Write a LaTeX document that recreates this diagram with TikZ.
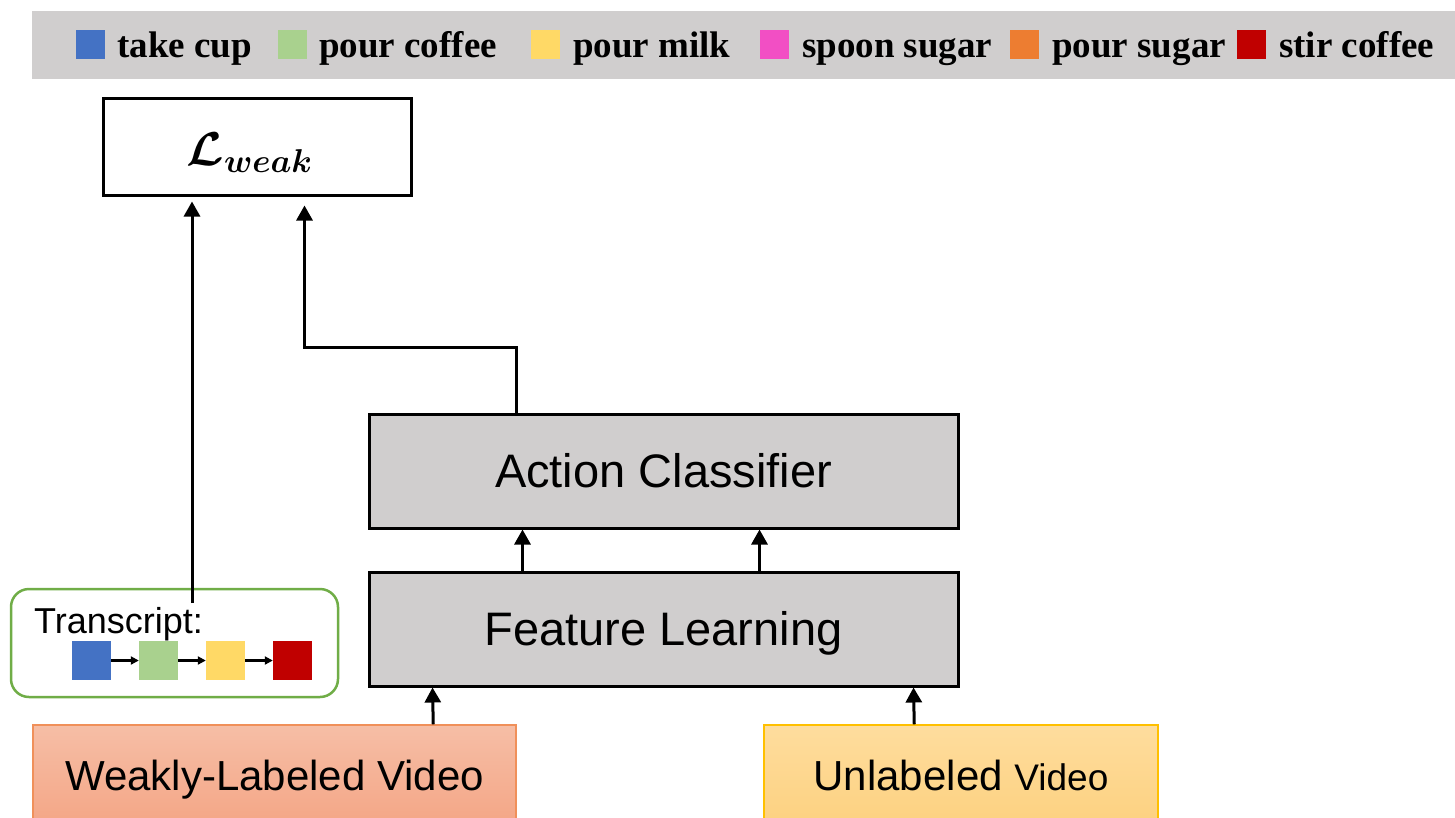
\documentclass[tikz,border=0pt]{standalone}
\usepackage{amsmath}
\usepackage{bm}
\usepackage{graphicx}
\usepackage{fontspec}
\setmainfont{Liberation Sans}
\newfontfamily\legfont{Liberation Serif}
\usetikzlibrary{arrows.meta,calc}
\definecolor{bandgray}{HTML}{D0CECE}
\definecolor{cblue}{HTML}{4472C4}
\definecolor{cgreen}{HTML}{A9D18E}
\definecolor{cyellow}{HTML}{FFD966}
\definecolor{cpink}{HTML}{F24FC4}
\definecolor{corange}{HTML}{ED7D31}
\definecolor{cred}{HTML}{C00000}
\definecolor{tgreen}{HTML}{70AD47}
\definecolor{wtop}{HTML}{F6BEA6}
\definecolor{wbot}{HTML}{F4A686}
\definecolor{wborder}{HTML}{F0905A}
\definecolor{utop}{HTML}{FEDD9E}
\definecolor{ubot}{HTML}{FDD180}
\definecolor{uborder}{HTML}{FFC000}
\tikzset{
  legsq/.style={draw=none, minimum size=29pt, inner sep=0pt},
  legtxt/.style={anchor=base west, inner sep=0pt, font=\legfont\bfseries\fontsize{37}{40}\selectfont},
  graybox/.style={draw=black, line width=3pt, fill=bandgray, minimum width=589pt, minimum height=114pt, inner sep=0pt,
    font=\fontsize{47}{52}\selectfont, text height=33.6pt, text depth=0pt},
  vidbox/.style={line width=1.5pt, minimum height=97pt, inner sep=0pt,
    font=\fontsize{42}{48}\selectfont, text height=30pt, text depth=0pt},
  arr/.style={line width=3pt, -{Triangle[length=15pt,width=16pt]}},
  smallarr/.style={line width=2.2pt, -{Triangle[length=8pt,width=8pt]}},
  trsq/.style={draw=none, minimum size=39pt, inner sep=0pt},
}
\begin{document}
\begin{tikzpicture}[x=1pt,y=-1pt]
\useasboundingbox (0,0) rectangle (1455,817);
% legend band
\fill[bandgray] (32,11) rectangle (1455,79);
\node[legsq, fill=cblue] (l1) at (90.5,44.5) {};
\node[legtxt] (t1) at (117,57) {take cup};
\node[legsq, fill=cgreen] (l2) at (292,44.5) {};
\node[legtxt] (t2) at (319,57) {pour coffee};
\node[legsq, fill=cyellow] (l3) at (545,44.5) {};
\node[legtxt] (t3) at (573,57) {pour milk};
\node[legsq, fill=cpink] (l4) at (774.5,44.5) {};
\node[legtxt] (t4) at (802,57) {spoon sugar};
\node[legsq, fill=corange] (l5) at (1024.5,44.5) {};
\node[legtxt] (t5) at (1052,57) {pour sugar};
\node[legsq, fill=cred] (l6) at (1251.5,44.5) {};
\node[legtxt] (t6) at (1279,57) {stir coffee};
% loss box
\node[draw=black, line width=3pt, fill=white, minimum width=308pt, minimum height=97pt, inner sep=0pt] (L) at (257,146.5) {};
\node[inner sep=0pt, font=\LARGE] (Ltxt) at (250,153) {\scalebox{2.75}{$\bm{\mathcal{L}}_{\bm{weak}}$}};
% main boxes
\node[graybox] (act) at (663.5,471) {Action Classifier};
\node[graybox] (feat) at (663.5,629) {Feature Learning};
% videos
\node[vidbox, draw=wborder, top color=wtop, bottom color=wbot, minimum width=483pt, minimum height=100pt] (weak) at (274.5,775) {Weakly-Labeled Video};
\node[vidbox, draw=uborder, top color=utop, bottom color=ubot, minimum width=394pt, minimum height=100pt] (unl) at (961,775) {Unlabeled {\fontsize{37}{42}\selectfont Video}};
% transcript
\node[draw=tgreen, line width=2.5pt, rounded corners=18pt, fill=white, minimum width=327pt, minimum height=108pt, inner sep=0pt] (tr) at (174.5,643) {};
\coordinate (trstart) at (192,603);
\draw[arr, shorten >=5pt] (trstart) -- (trstart |- L.south);
\node[anchor=base west, inner sep=0pt, font=\fontsize{36}{40}\selectfont] (trtxt) at (34,633) {Transcript:};
\node[trsq, fill=cblue] (s1) at (91.5,660.5) {};
\node[trsq, fill=cgreen] (s2) at (158.5,660.5) {};
\node[trsq, fill=cyellow] (s3) at (225.5,660.5) {};
\node[trsq, fill=cred] (s4) at (292.5,660.5) {};
\draw[smallarr] (s1.east) -- (s2.west);
\draw[smallarr] (s2.east) -- (s3.west);
\draw[smallarr] (s3.east) -- (s4.west);
% arrows
\coordinate (lin) at ($(L.south west)+(203,0)$);
\draw[arr, shorten >=9pt] ($(act.north west)+(149,0)$) -- ++(0,-65) -| (lin);
\draw[arr] ($(feat.north west)+(155,0)$) -- ($(act.south west)+(155,0)$);
\draw[arr] ($(feat.north west)+(392,0)$) -- ($(act.south west)+(392,0)$);
\draw[arr] ($(weak.north west)+(401,0)$) -- ($(feat.south west)+(65,0)$);
\draw[arr] ($(unl.north west)+(151,0)$) -- ($(feat.south west)+(546,0)$);
\end{tikzpicture}
\end{document}
